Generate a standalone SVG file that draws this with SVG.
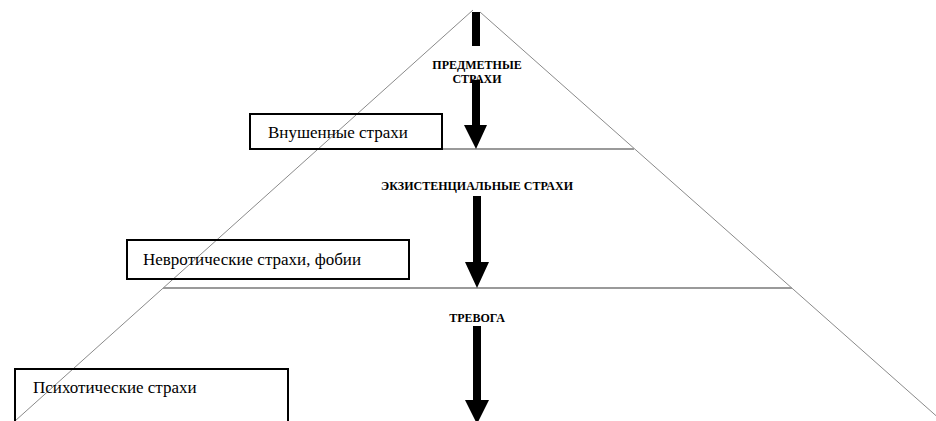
<svg xmlns="http://www.w3.org/2000/svg" width="936" height="421" viewBox="0 0 936 421">
<style>
.diag{stroke:#8a8a8a;stroke-width:1;fill:none}
.level{stroke:#9a9a9a;stroke-width:2;fill:none}
.box{fill:none;stroke:#000;stroke-width:2}
.lbl{font-family:"Liberation Serif",serif;font-size:17px;fill:#000}
.cap{font-family:"Liberation Serif",serif;font-size:12px;font-weight:bold;fill:#000;text-anchor:middle}
.arrow{fill:#000}
</style>
<rect width="936" height="421" fill="#fff"/>
<g id="pyramid">
<line class="diag" x1="473" y1="10" x2="15" y2="421"/>
<line class="diag" x1="480" y1="12" x2="942" y2="421"/>
<line class="level" x1="443" y1="149" x2="634" y2="149"/>
<line class="level" x1="163" y1="288" x2="792" y2="288"/>
</g>
<g id="level1">
<text class="cap" x="477" y="69">ПРЕДМЕТНЫЕ</text>
<text class="cap" x="477" y="83">СТРАХИ</text>
</g>
<g id="level2">
<text class="cap" x="477" y="190">ЭКЗИСТЕНЦИАЛЬНЫЕ СТРАХИ</text>
</g>
<g id="level3">
<text class="cap" x="477" y="322">ТРЕВОГА</text>
</g>
<g id="connectors">
<rect class="arrow" x="472" y="12" width="8" height="34"/>
<polygon class="arrow" points="472,80 480,80 480,125 487,125 476,149 464,125 472,125"/>
<polygon class="arrow" points="473,196 481,196 481,262 489,262 477,288 465,262 473,262"/>
<polygon class="arrow" points="473,326 481,326 481,400 489,400 477,424 465,400 473,400"/>
</g>
<g id="box1">
<rect class="box" x="250" y="114" width="192" height="35"/>
<text class="lbl" x="268" y="138">Внушенные страхи</text>
</g>
<g id="box2">
<rect class="box" x="127" y="240" width="282" height="39"/>
<text class="lbl" x="143" y="265">Невротические страхи, фобии</text>
</g>
<g id="box3">
<rect class="box" x="15" y="369" width="273" height="60"/>
<text class="lbl" x="33" y="393">Психотические страхи</text>
</g>
</svg>
